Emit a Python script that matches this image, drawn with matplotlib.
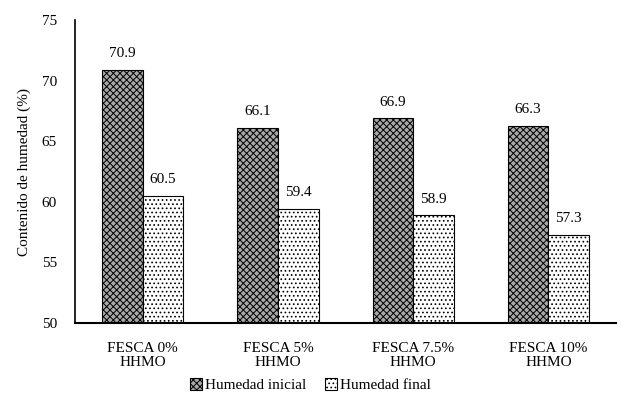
import numpy as np
import matplotlib.pyplot as plt

plt.rcParams['font.family'] = ['Liberation Serif', 'DejaVu Serif']
plt.rcParams['hatch.linewidth'] = 0.7

groups = ['FESCA 0%\nHHMO', 'FESCA 5%\nHHMO', 'FESCA 7.5%\nHHMO', 'FESCA 10%\nHHMO']
inicial = [70.9, 66.1, 66.9, 66.3]
final = [60.5, 59.4, 58.9, 57.3]

fig = plt.figure(figsize=(6.21, 4.11), dpi=100)
ax = fig.add_axes([0.121, 0.214, 0.871, 0.737])

x = np.arange(len(groups))
w = 0.30
b1 = ax.bar(x - w / 2, inicial, w, color='#a8a8a8', edgecolor='black',
            hatch='xxxxx', linewidth=0.8, label='Humedad inicial')
b2 = ax.bar(x + w / 2, final, w, color='white', edgecolor='black',
            hatch='....', linewidth=0.8, label='Humedad final')

for bars, vals in ((b1, inicial), (b2, final)):
    for r, v in zip(bars, vals):
        ax.text(r.get_x() + r.get_width() / 2, v + 0.8, f'{v:.1f}',
                ha='center', va='bottom', fontsize=11)

ax.set_ylim(50, 75)
ax.set_yticks(range(50, 76, 5))
ax.set_xlim(-0.5, 3.5)
ax.set_xticks(x)
ax.set_xticklabels(groups, fontsize=11, linespacing=1.05)
ax.tick_params(axis='y', length=0, labelsize=11, pad=13)
ax.tick_params(axis='x', length=0, labelsize=11, pad=14)
ax.set_ylabel('Contenido de humedad (%)', fontsize=11, labelpad=8)

for s in ('top', 'right'):
    ax.spines[s].set_visible(False)
ax.spines['left'].set_linewidth(1.2)
ax.spines['bottom'].set_linewidth(1.5)

fig.legend(handles=[b1, b2], loc='center', bbox_to_anchor=(0.5, 0.063),
           ncol=2, frameon=False, fontsize=11, handlelength=0.8,
           handleheight=0.8, handletextpad=0.2, columnspacing=1.2)

fig.savefig('out.png', dpi=100)
